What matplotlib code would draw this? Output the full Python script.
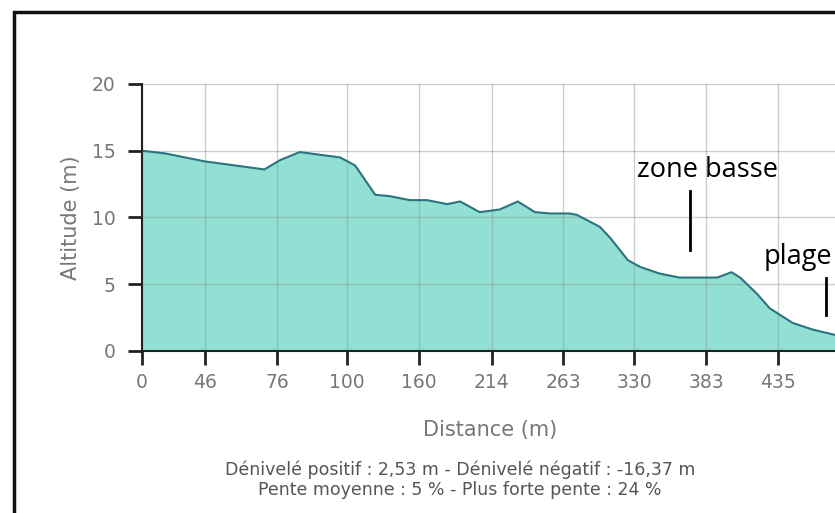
import numpy as np
import matplotlib
matplotlib.use('Agg')
import matplotlib.pyplot as plt
from matplotlib.patches import Rectangle

# profile samples (position along the profile, altitude in m)
pos = [0, 3.2, 8.75, 17.0, 19.2, 21.9, 27.5, 29.6, 32.4, 34.4, 37.2, 39.6, 42.4,
       44.2, 46.9, 49.7, 52.2, 54.6, 56.7, 59.4, 60.4, 63.6, 65.0, 67.5, 69.2,
       71.9, 74.7, 77.9, 79.9, 81.9, 83.1, 85.4, 87.2, 90.4, 93.2, 96.3, 99.0]
alt = [15.0, 14.8, 14.2, 13.6, 14.3, 14.9, 14.5, 13.9, 11.7, 11.6, 11.3, 11.3, 11.0,
       11.2, 10.4, 10.6, 11.2, 10.4, 10.3, 10.3, 10.2, 9.3, 8.5, 6.8, 6.3,
       5.8, 5.5, 5.5, 5.5, 5.9, 5.5, 4.3, 3.2, 2.1, 1.6, 1.2, 1.0]

tick_pos = [0, 8.75, 18.75, 28.5, 38.5, 48.6, 58.5, 68.4, 78.4, 88.4]
tick_lab = ['0', '46', '76', '100', '160', '214', '263', '330', '383', '435']
y_ticks = [0, 5, 10, 15, 20]

fig = plt.figure(figsize=(8.35, 5.13), dpi=100)
ax = fig.add_axes([0.1701, 0.3158, 0.862, 0.5205])

ax.fill_between(pos, alt, 0, color='#92dfd3', zorder=1)
ax.plot(pos, alt, color='#2d7480', lw=1.5, zorder=3)

ax.set_xlim(0, 100)
ax.set_ylim(0, 20)
ax.set_xticks(tick_pos)
ax.set_xticklabels(tick_lab)
ax.set_yticks(y_ticks)
ax.grid(True, color='#8a9a98', lw=1, alpha=0.45, zorder=2)
ax.set_axisbelow(False)

for s in ['top', 'right']:
    ax.spines[s].set_visible(False)
for s in ['left', 'bottom']:
    ax.spines[s].set_color('#222222')
    ax.spines[s].set_linewidth(1.5)
    ax.spines[s].set_zorder(4)
ax.tick_params(axis='both', colors='#222222', width=2, length=10,
               labelcolor='#777777', labelsize=13.5)
ax.tick_params(axis='x', pad=6)
ax.tick_params(axis='y', pad=9)

ax.set_ylabel('Altitude (m)', color='#777777', fontsize=15, labelpad=8)
fig.text(0.587, 0.162, 'Distance (m)', color='#777777', fontsize=15,
         ha='center', va='center')
fig.text(0.551, 0.084, 'Dénivelé positif : 2,53 m - Dénivelé négatif : -16,37 m',
         color='#555555', fontsize=12.5, ha='center', va='center')
fig.text(0.55, 0.045, 'Pente moyenne : 5 % - Plus forte pente : 24 %',
         color='#555555', fontsize=12.5, ha='center', va='center')

# annotations
ax.text(78.6, 13.0, 'zone basse', fontsize=19.5, family='Open Sans',
        ha='center', va='baseline', color='black', zorder=5)
ax.plot([76.1, 76.1], [7.6, 12.0], color='black', lw=2, zorder=5)
ax.text(86.4, 6.5, 'plage', fontsize=19.5, family='Open Sans',
        ha='left', va='baseline', color='black', zorder=5)
ax.plot([95.0, 95.0], [2.7, 5.5], color='black', lw=2, zorder=5)

# outer frame
fig.patches.append(Rectangle((0.017, -0.05), 1.2, 1.027, transform=fig.transFigure,
                             fill=False, edgecolor='#111111', lw=2.5))

fig.savefig('out.png', dpi=100)
